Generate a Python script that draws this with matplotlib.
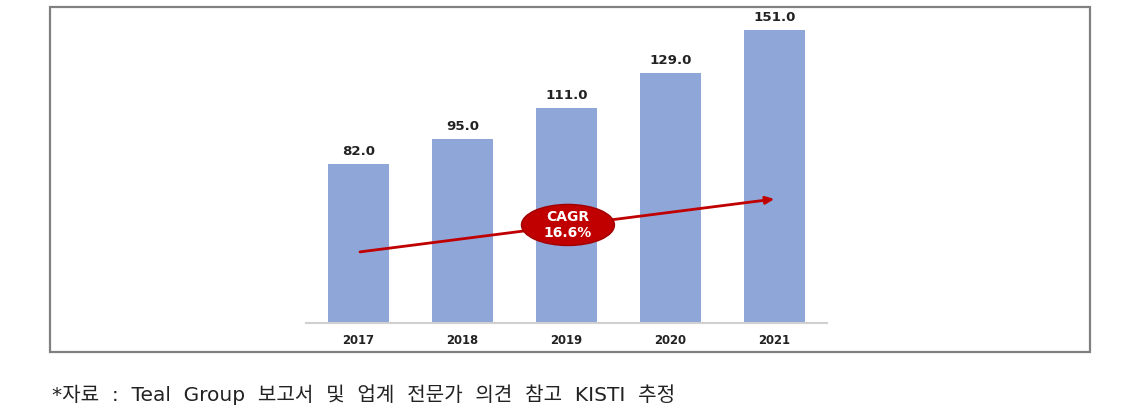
import matplotlib
matplotlib.use("Agg")
import matplotlib.pyplot as plt
from matplotlib.patches import Rectangle, Ellipse

years = ["2017", "2018", "2019", "2020", "2021"]
values = [82.0, 95.0, 111.0, 129.0, 151.0]
cagr_label = "CAGR\n16.6%"
source_note = "*자료 : Teal Group 보고서 및 업계 전문가 의견 참고 KISTI 추정"

W, H = 1125, 419
fig = plt.figure(figsize=(W / 100, H / 100), dpi=100)
fig.patch.set_facecolor("white")

# outer frame
fig.patches.append(Rectangle((50 / W, 1 - 352 / H), (1090 - 50) / W, (352 - 7) / H,
                             transform=fig.transFigure, fill=False,
                             edgecolor="#808080", linewidth=1.6))

ax = fig.add_axes([306 / W, (H - 323) / H, (827 - 306) / W, 310 / H])
x = list(range(len(years)))
ax.bar(x, values, width=0.59, color="#8FA6D8", zorder=2)
ax.set_xlim(-0.505, 4.505)
ax.set_ylim(0, 160)
for s in ["top", "right", "left"]:
    ax.spines[s].set_visible(False)
ax.spines["bottom"].set_color("#D0D0D0")
ax.spines["bottom"].set_linewidth(1.5)
ax.set_yticks([])
ax.set_xticks(x)
ax.set_xticklabels(years, fontsize=8.4, fontweight="bold", color="#222222")
ax.tick_params(axis="x", length=0, pad=8)

for xi, v in zip(x, values):
    ax.annotate(f"{v:.1f}", (xi, v), xytext=(0, 4.5), textcoords="offset points",
                ha="center", va="bottom", fontsize=9.6, fontweight="bold", color="#222222")

# CAGR arrow
ax.annotate("", xy=(4.0, 64), xytext=(0.014, 36.7),
            arrowprops=dict(arrowstyle="-|>,head_length=0.5,head_width=0.22",
                            color="#C00000", lw=2.0, shrinkA=0, shrinkB=0), zorder=3)
ax.add_patch(Ellipse((2.014, 50.6), 0.894, 21.2, facecolor="#C00000",
                     edgecolor="#A00000", lw=1, zorder=4))
ax.text(2.014, 50.6, cagr_label, ha="center", va="center", color="white",
        fontsize=10, fontweight="bold", linespacing=1.25, zorder=5)

# source note (wide word gaps as in the reference)
fig.text(52 / W, 1 - 395 / H, source_note.replace(" ", "  "), ha="left", va="center",
         fontsize=14.5, color="#222222", family=["DejaVu Sans", "Noto Sans CJK KR"])

fig.savefig("out.png", dpi=100, facecolor="white")
